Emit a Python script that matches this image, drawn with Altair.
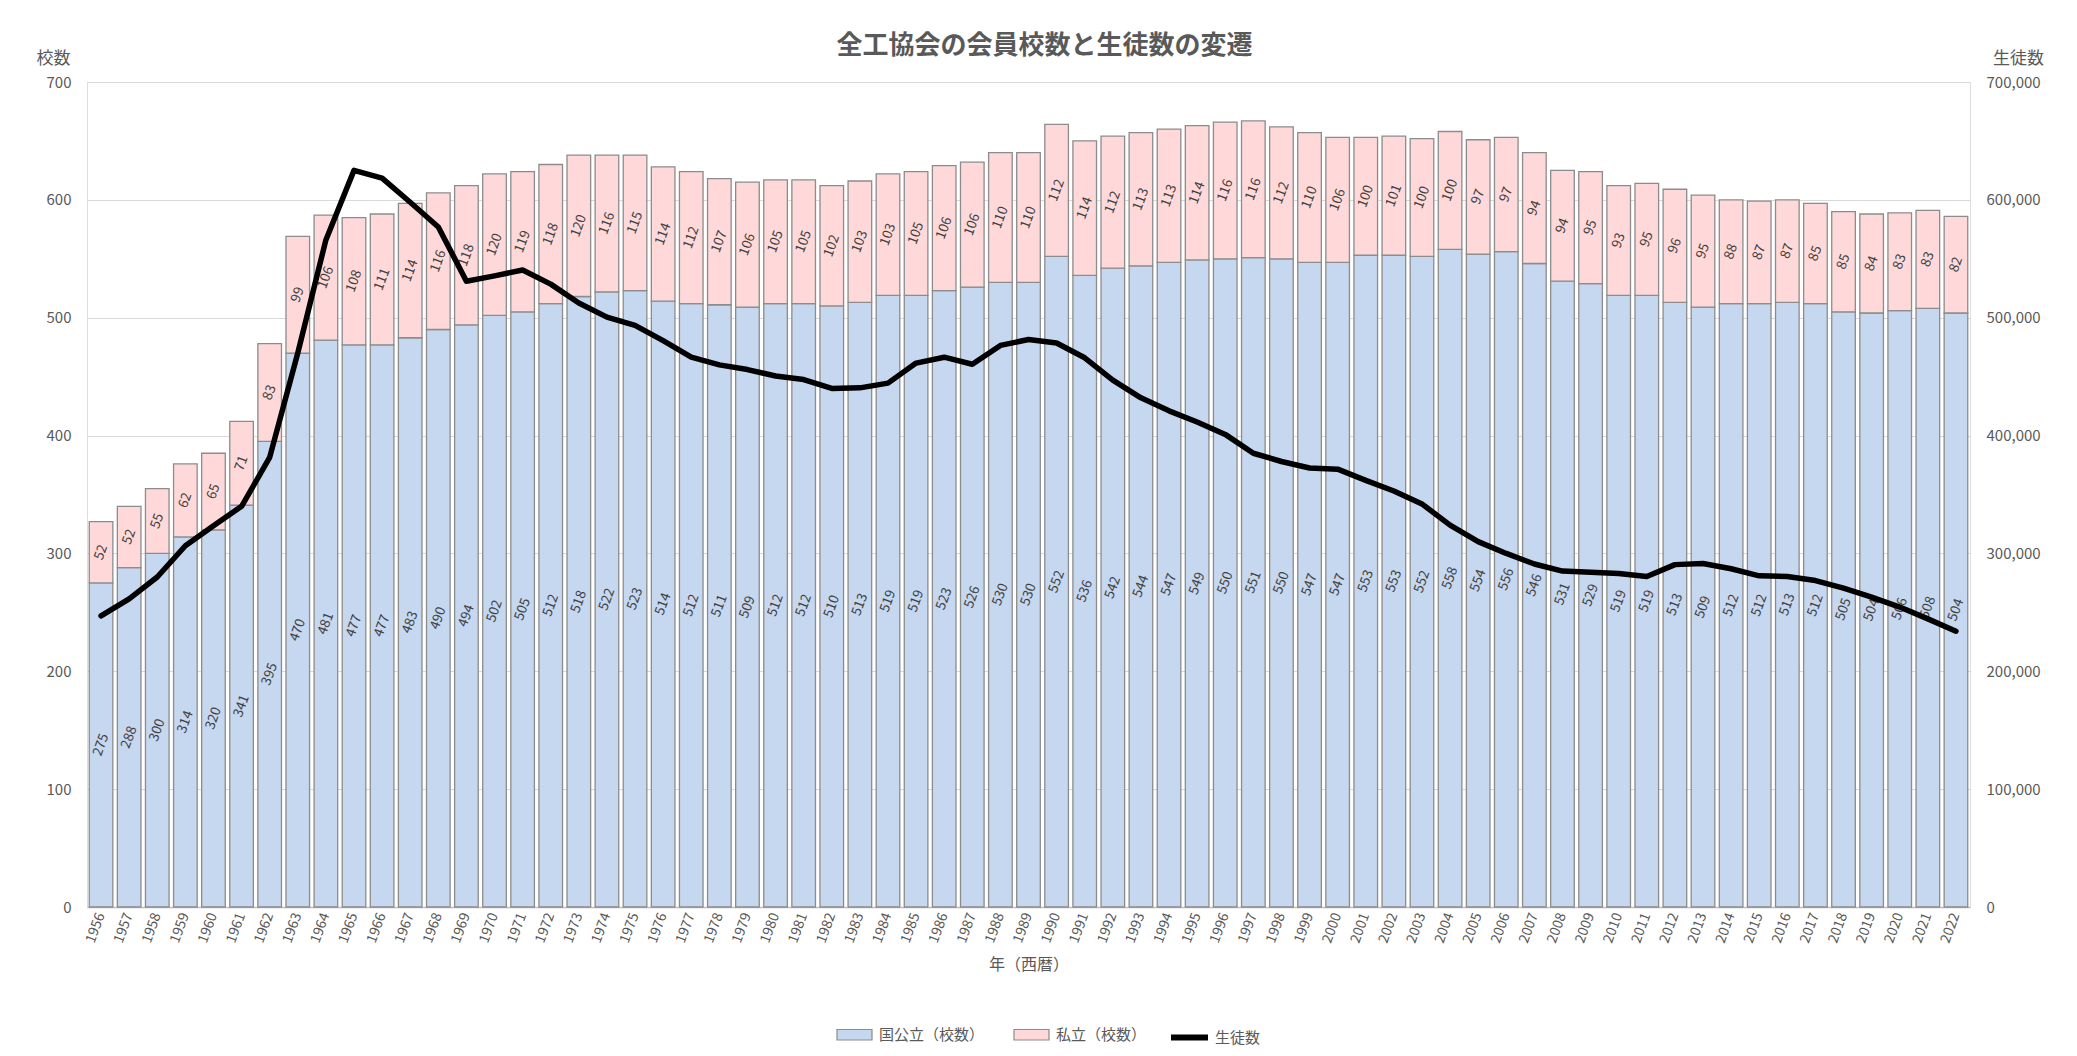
import altair as alt
import pandas as pd

FONT = "Noto Sans CJK JP"

years = [str(y) for y in range(1956, 2023)]

public = [275, 288, 300, 314, 320, 341, 395, 470, 481, 477,
          477, 483, 490, 494, 502, 505, 512, 518, 522, 523,
          514, 512, 511, 509, 512, 512, 510, 513, 519, 519,
          523, 526, 530, 530, 552, 536, 542, 544, 547, 549,
          550, 551, 550, 547, 547, 553, 553, 552, 558, 554,
          556, 546, 531, 529, 519, 519, 513, 509, 512, 512,
          513, 512, 505, 504, 506, 508, 504]

private = [52, 52, 55, 62, 65, 71, 83, 99, 106, 108,
           111, 114, 116, 118, 120, 119, 118, 120, 116, 115,
           114, 112, 107, 106, 105, 105, 102, 103, 103, 105,
           106, 106, 110, 110, 112, 114, 112, 113, 113, 114,
           116, 116, 112, 110, 106, 100, 101, 100, 100, 97,
           97, 94, 94, 95, 93, 95, 96, 95, 88, 87,
           87, 85, 85, 84, 83, 83, 82]

students = [247000, 261500, 280000, 306500, 323500, 340000, 381500, 470000, 566000, 625000,
            618500, 598000, 577000, 531000, 535500, 540500, 528500, 512500, 500500, 493500,
            480500, 466500, 460000, 456000, 450500, 447500, 440000, 440500, 444500, 461500,
            466500, 460500, 476500, 481500, 478500, 466000, 447000, 432000, 421000, 411500,
            401000, 385000, 378000, 372500, 371500, 362000, 353000, 342000, 324000, 310000,
            300000, 291000, 285000, 284000, 283000, 280500, 290500, 291500, 287000, 281000,
            280500, 277000, 270500, 263000, 254500, 244500, 234000]

left_ticks = [0, 100, 200, 300, 400, 500, 600, 700]
right_ticks = [0, 100000, 200000, 300000, 400000, 500000, 600000, 700000]

kinds = ["国公立（校数）", "私立（校数）"]
line_name = "生徒数"

assert len(years) == len(public) == len(private) == len(students)

rows = []
for y, pu, pr in zip(years, public, private):
    rows.append({"year": y, "kind": kinds[0], "start": 0, "end": pu, "mid": pu / 2, "value": pu})
    rows.append({"year": y, "kind": kinds[1], "start": pu, "end": pu + pr, "mid": pu + pr / 2, "value": pr})
bar_df = pd.DataFrame(rows)
line_df = pd.DataFrame({"year": years, "students": students, "series": line_name})

GRAY_TXT = "#595959"

xenc = alt.X(
    "year:O",
    sort=years,
    scale=alt.Scale(paddingInner=0.16, paddingOuter=0.08),
    axis=alt.Axis(
        title="年（西暦）",
        labelAngle=-70,
        labelFontSize=14,
        labelColor=GRAY_TXT,
        labelFont=FONT,
        labelPadding=6,
        ticks=False,
        domainColor="#BFBFBF",
        domainWidth=1.5,
        titleFont=FONT,
        titleFontSize=16,
        titleFontWeight="normal",
        titleColor=GRAY_TXT,
        titlePadding=12,
    ),
)

left_axis = alt.Axis(
    values=left_ticks,
    title="校数",
    titleAngle=0,
    titleX=-34,
    titleY=-24,
    titleAlign="center",
    titleBaseline="middle",
    titleFont=FONT,
    titleFontSize=17,
    titleFontWeight="normal",
    titleColor=GRAY_TXT,
    labelFont=FONT,
    labelFontSize=15,
    labelColor=GRAY_TXT,
    labelPadding=16,
    ticks=False,
    domain=False,
    grid=True,
    gridColor="#D9D9D9",
    gridWidth=1.2,
)
left_scale = alt.Scale(domain=[0, 700], nice=False)

bars = alt.Chart(bar_df).mark_bar(stroke="#8C8C8C", strokeWidth=1.3).encode(
    x=xenc,
    y=alt.Y("start:Q", scale=left_scale, axis=left_axis),
    y2="end:Q",
    color=alt.Color(
        "kind:N",
        sort=kinds,
        scale=alt.Scale(domain=kinds, range=["#C6D7F0", "#FFD9D9"]),
        legend=alt.Legend(
            orient="none",
            legendX=749,
            legendY=934,
            direction="horizontal",
            title=None,
            symbolType="M-1,-0.3H1V0.3H-1Z",
            symbolSize=1225,
            symbolStrokeColor="#8C8C8C",
            symbolStrokeWidth=1.2,
            labelFont=FONT,
            labelFontSize=15,
            labelColor=GRAY_TXT,
            labelOffset=6,
            columnPadding=26,
        ),
    ),
)

labels = alt.Chart(bar_df).mark_text(
    angle=290, fontSize=13.5, color="#404040", font=FONT, align="center", baseline="middle"
).encode(
    x=xenc,
    y=alt.Y("mid:Q", scale=left_scale, axis=left_axis),
    text="value:Q",
)

left = alt.layer(bars, labels)

line = alt.Chart(line_df).mark_line(
    strokeWidth=5.5, strokeJoin="round", strokeCap="round"
).encode(
    x=xenc,
    y=alt.Y(
        "students:Q",
        scale=alt.Scale(domain=[0, 700000], nice=False),
        axis=alt.Axis(
            orient="right",
            values=right_ticks,
            labelExpr="format(datum.value, ',')",
            title="生徒数",
            titleAngle=0,
            titleX=48,
            titleY=-24,
            titleAlign="center",
            titleBaseline="middle",
            titleFont=FONT,
            titleFontSize=17,
            titleFontWeight="normal",
            titleColor=GRAY_TXT,
            labelFont=FONT,
            labelFontSize=15,
            labelColor=GRAY_TXT,
            labelPadding=16,
            ticks=False,
            domain=False,
            grid=False,
        ),
    ),
    stroke=alt.Stroke(
        "series:N",
        scale=alt.Scale(domain=[line_name], range=["#000000"]),
        legend=alt.Legend(
            orient="none",
            legendX=1081,
            legendY=934,
            title=None,
            symbolType="stroke",
            symbolSize=1369,
            symbolStrokeWidth=6,
            labelFont=FONT,
            labelFontSize=15,
            labelColor=GRAY_TXT,
            labelOffset=4,
        ),
    ),
)

chart = alt.layer(left, line).resolve_scale(y="independent").properties(
    width=1883,
    height=825,
    padding={"left": 79, "top": 74, "right": 99, "bottom": 140},
    autosize=alt.AutoSizeParams(type="none"),
    title=alt.Title(
        "全工協会の会員校数と生徒数の変遷",
        font=FONT,
        fontSize=26,
        fontWeight="bold",
        color=GRAY_TXT,
        anchor="middle",
        frame="group",
        offset=4,
        dy=14,
        dx=16,
    ),
).configure_view(stroke=None).configure(background="white")

chart.save("out.html", embed_options={"renderer": "svg", "actions": False})
